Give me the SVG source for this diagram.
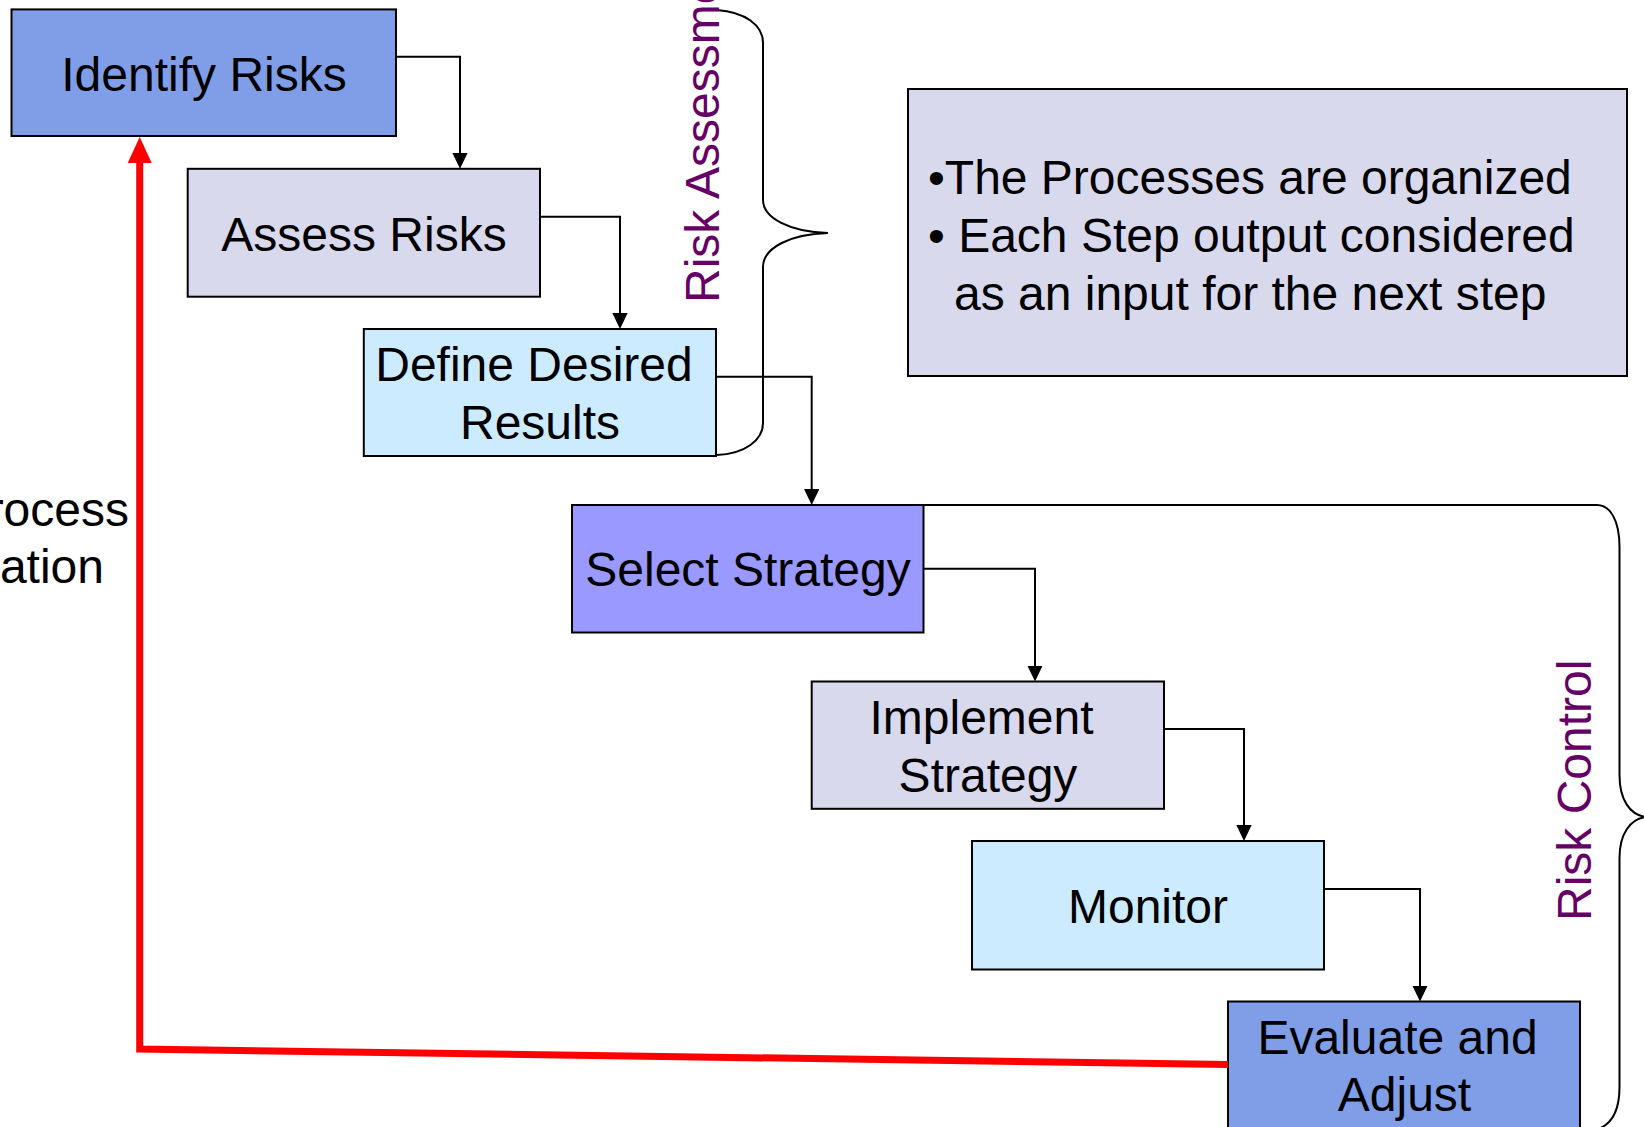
<svg xmlns="http://www.w3.org/2000/svg" width="1644" height="1127" viewBox="0 0 1644 1127">
<style>
  .box { stroke: #000; stroke-width: 2; }
  .blue { fill: #7F9EE7; }
  .lav { fill: #D9D9ED; }
  .sky { fill: #CCEBFF; }
  .violet { fill: #9999FF; }
  .lbl { font-family: "Liberation Sans", Arial, sans-serif; font-size: 48px; fill: #000; }
  .c { text-anchor: middle; }
  .side { font-family: "Liberation Sans", Arial, sans-serif; font-size: 48px; fill: #660066; }
  .conn { fill: none; stroke: #000; stroke-width: 2; marker-end: url(#arr); }
  .brace { fill: none; stroke: #000; stroke-width: 2; }
  .loop { fill: none; stroke: #FF0000; stroke-width: 7; }
</style>
<defs>
  <marker id="arr" markerUnits="userSpaceOnUse" viewBox="0 0 16 15.4" markerWidth="16" markerHeight="15.4" refX="2" refY="7.7" orient="auto">
    <path d="M0,0 L16,7.7 L0,15.4 z" fill="#000"/>
  </marker>
</defs>
<rect width="1644" height="1127" fill="#FFFFFF"/>

<g id="braces">
  <path class="brace" d="M716.7,10 C745,12 763,25 763,43 V200 C763,218 790,232 828,233 C790,234 763,248 763,267 V423 C763,440 745,454 716.7,455"/>
  <path class="brace" d="M923.7,505 H1597 C1610,505 1619.5,520 1619.5,547 V775 C1619.5,800 1630,815 1646,817 C1630,819 1619.5,834 1619.5,858 V1087 C1619.5,1110 1612,1124 1598,1129"/>
</g>

<g id="labels">
  <text class="side" transform="translate(719,303) rotate(-90)">Risk Assessment</text>
  <text class="side" transform="translate(1591,921) rotate(-90)">Risk Control</text>
  <text class="lbl" text-anchor="end" x="129" y="526">rocess</text>
  <text class="lbl" text-anchor="end" x="104" y="583">ration</text>
</g>

<g id="connectors">
  <path class="conn" d="M396,56.7 H460 V154.8"/>
  <path class="conn" d="M540,216.7 H620 V315"/>
  <path class="conn" d="M716,376.7 H811.7 V491"/>
  <path class="conn" d="M923.7,568.8 H1035 V667.5"/>
  <path class="conn" d="M1164,729 H1244 V827"/>
  <path class="conn" d="M1324,889 H1420 V987.5"/>
</g>

<g id="n-identify">
  <rect class="box blue" x="11.5" y="9.4" width="384.5" height="126.6"/>
  <text class="lbl c" x="204" y="91">Identify Risks</text>
</g>
<g id="n-assess">
  <rect class="box lav" x="187.7" y="168.8" width="352.3" height="127.9"/>
  <text class="lbl c" x="364" y="251">Assess Risks</text>
</g>
<g id="n-define">
  <rect class="box sky" x="363.8" y="329" width="352.2" height="127"/>
  <text class="lbl c" x="534" y="381">Define Desired</text>
  <text class="lbl c" x="540" y="439">Results</text>
</g>
<g id="n-select">
  <rect class="box violet" x="572" y="505" width="351.5" height="127.5"/>
  <text class="lbl c" x="748" y="586">Select Strategy</text>
</g>
<g id="n-implement">
  <rect class="box lav" x="811.7" y="681.5" width="352.3" height="127.3"/>
  <text class="lbl c" x="981.5" y="734">Implement</text>
  <text class="lbl c" x="988" y="791.5">Strategy</text>
</g>
<g id="n-monitor">
  <rect class="box sky" x="972" y="841" width="352" height="128.5"/>
  <text class="lbl c" x="1148" y="923">Monitor</text>
</g>
<g id="n-evaluate">
  <rect class="box blue" x="1228" y="1001.5" width="352" height="128"/>
  <text class="lbl c" x="1397.5" y="1054">Evaluate and</text>
  <text class="lbl c" x="1404.5" y="1111">Adjust</text>
</g>

<g id="n-note">
  <rect class="box lav" x="908" y="89" width="719" height="287"/>
  <text class="lbl" x="928" y="193.5">•The Processes are organized</text>
  <text class="lbl" x="928" y="251.5">• Each Step output considered</text>
  <text class="lbl" x="954" y="309.5">as an input for the next step</text>
</g>

<g id="feedback">
  <polyline class="loop" points="1228,1064.5 139.7,1049 139.7,158"/>
  <polygon points="139.7,137 151.7,163 127.7,163" fill="#FF0000"/>
</g>
</svg>
